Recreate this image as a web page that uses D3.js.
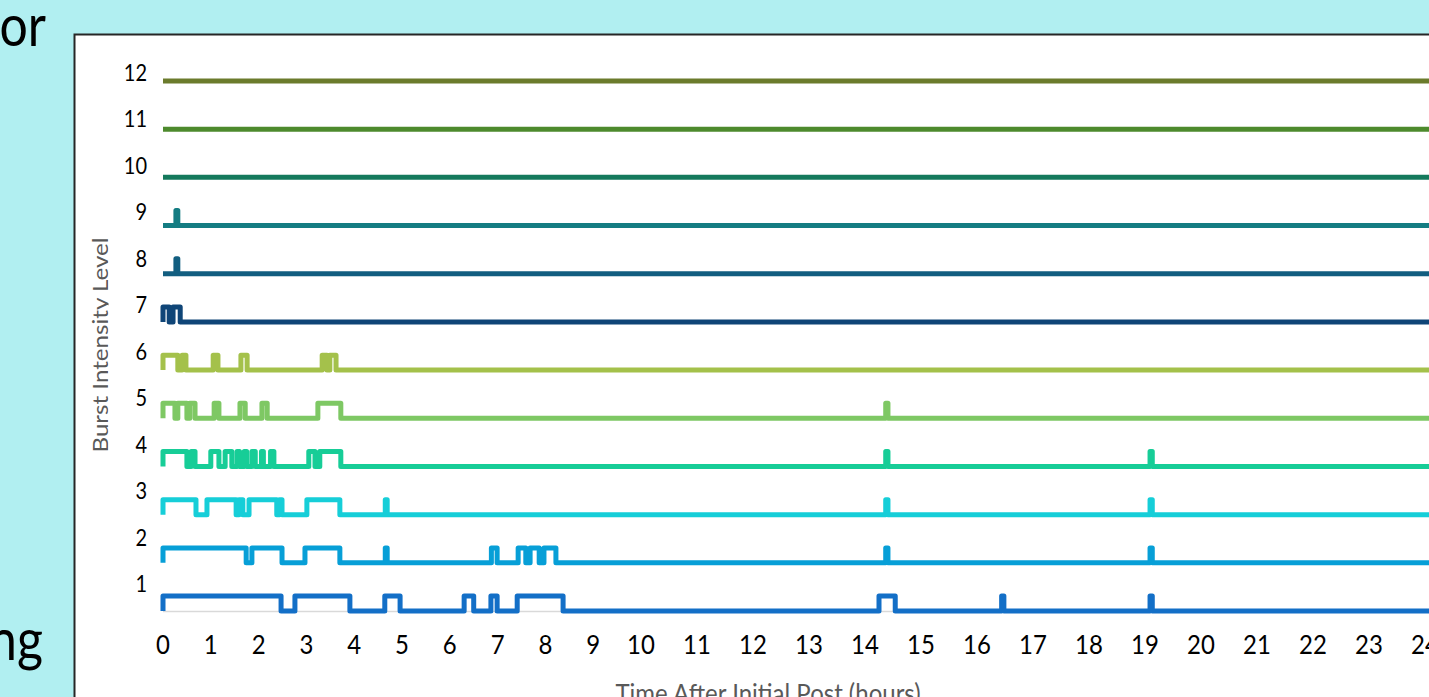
<!DOCTYPE html>
<html><head><meta charset="utf-8">
<script src="https://cdn.jsdelivr.net/npm/d3@7"></script>
<style>html,body{margin:0;padding:0;background:#b1eff1;overflow:hidden}</style>
</head><body>
<svg id="c" width="1429" height="697"></svg>
<script>
// ---------- data ----------
const levels = [1,2,3,4,5,6,7,8,9,10,11,12];
const levelColors = ["#136fc7","#079fd7","#16ced8","#17cd97","#7ec864","#a4c14b",
                     "#0f4577","#125e80","#147c82","#14795c","#4d8a2d","#6b7b2c"];
// burst intervals [start, end] in hours for each level
const bursts1  = [[0,2.47],[2.76,3.91],[4.64,4.96],[6.30,6.50],[6.86,6.99],[7.41,8.37],[14.25,14.54],[16.44,16.48],[19.09,19.13]];
const bursts2  = [[0,1.74],[1.86,2.49],[2.97,3.70],[4.65,4.69],[6.87,6.99],[7.43,7.59],[7.68,7.87],[7.97,8.22],[14.37,14.41],[19.09,19.13]];
const bursts3  = [[0,0.69],[0.92,1.53],[1.59,1.67],[1.80,2.38],[2.44,2.49],[3.01,3.70],[4.65,4.69],[14.37,14.41],[19.09,19.13]];
const bursts4  = [[0,0.50],[0.59,0.67],[1.00,1.17],[1.30,1.44],[1.55,1.60],[1.70,1.75],[1.86,1.93],[2.06,2.10],[2.25,2.32],[3.05,3.18],[3.28,3.72],[14.37,14.41],[19.09,19.13]];
const bursts5  = [[0,0.25],[0.31,0.50],[0.56,0.67],[1.07,1.17],[1.61,1.72],[2.07,2.18],[3.24,3.72],[14.37,14.41]];
const bursts6  = [[0,0.31],[0.40,0.48],[1.05,1.15],[1.63,1.76],[3.33,3.43],[3.49,3.62]];
const bursts7  = [[0,0.13],[0.21,0.36]];
const bursts8  = [[0.27,0.31]];
const bursts9  = [[0.27,0.31]];
const bursts10 = [];
const bursts11 = [];
const bursts12 = [];
const allBursts = [bursts1,bursts2,bursts3,bursts4,bursts5,bursts6,bursts7,bursts8,bursts9,bursts10,bursts11,bursts12];
const burstHeight = 0.31;     // height of a burst step, in level units
const timeEnd = 24;
const hourTicks = [0,1,2,3,4,5,6,7,8,9,10,11,12,13,14,15,16,17,18,19,20,21,22,23,24];
const levelTicks = [1,2,3,4,5,6,7,8,9,10,11,12];
const xTitle = "Time After Initial Post (hours)";
const yTitle = "Burst Intensity Level";
const slideTextTop = "or";
const slideTextBottom = "ng";

// ---------- drawing ----------
const svg = d3.select("#c");
const SY = 1.15; // vertical text stretch of the reference

const x = d3.scaleLinear().domain([0,10,24]).range([163,641,1425]);
const y = d3.scaleLinear().domain([0,11]).range([611,81]);
const yLab = d3.scaleLinear().domain([1,12]).range([584,73]);

function sText(txt, tx, ty, size, fill, anchor){
  return svg.append("text").text(txt)
    .attr("transform", `translate(${tx},${ty}) scale(1,${SY})`)
    .attr("text-anchor", anchor).attr("font-family","Lato, 'Open Sans', sans-serif")
    .attr("font-size", size).attr("fill", fill);
}
sText(slideTextTop, 46, 46, 50, "#000", "end");
sText(slideTextBottom, 43, 660, 50, "#000", "end");

// chart panel
svg.append("rect").attr("x",74.5).attr("y",34.5).attr("width",1429).attr("height",700)
  .attr("fill","#fff").attr("stroke","#262626").attr("stroke-width",2);

// axis baseline
svg.append("line").attr("x1",x(0)).attr("x2",1429).attr("y1",y(0)+0.5).attr("y2",y(0)+0.5)
  .attr("stroke","#d9d9d9").attr("stroke-width",1.5);

// series
const line = d3.line().x(d=>x(d[0])).y(d=>y(d[1]));
levels.slice().reverse().forEach(L=>{
  const i = L-1;
  const base = i, high = i + burstHeight;
  const pts = [[0, base]];
  allBursts[i].forEach(([s,e])=>{
    pts.push([s,base],[s,high],[e,high],[e,base]);
  });
  pts.push([timeEnd + 0.08, base]);
  svg.append("path").datum(pts).attr("d", line)
    .attr("fill","none").attr("stroke", levelColors[i]).attr("stroke-width",5)
    .attr("stroke-linejoin","round").attr("stroke-linecap","butt");
});

// x tick labels
svg.append("g").selectAll("text").data(hourTicks).join("text")
  .text(d=>d)
  .attr("transform", d=>`translate(${x(d)},654) scale(1,${SY})`)
  .attr("text-anchor","middle").attr("font-family","Lato, sans-serif")
  .attr("font-size",24).attr("fill","#000");

// y tick labels
svg.append("g").selectAll("text").data(levelTicks).join("text")
  .text(d=>d)
  .attr("transform", d=>`translate(147,${yLab(d)+8}) scale(1,${SY})`)
  .attr("text-anchor","end").attr("font-family","Lato, sans-serif")
  .attr("font-size",20).attr("fill","#000");

// axis titles
svg.append("text").text(xTitle)
  .attr("transform", `translate(768,703) scale(1,${SY})`)
  .attr("text-anchor","middle").attr("font-family","Lato, sans-serif")
  .attr("font-size",24).attr("fill","#595959");

svg.append("clipPath").attr("id","yt").append("rect").attr("x",80).attr("y",200).attr("width",28.5).attr("height",300);
svg.append("g").attr("clip-path","url(#yt)").append("text").text(yTitle)
  .attr("transform", `translate(108,345) rotate(-90) scale(${SY},1)`)
  .attr("text-anchor","middle").attr("font-family","Lato, sans-serif")
  .attr("font-size",21).attr("fill","#595959");
</script>
</body></html>
